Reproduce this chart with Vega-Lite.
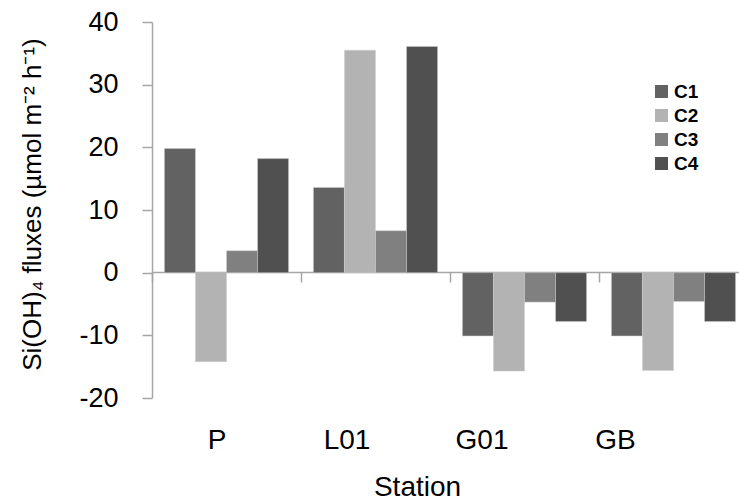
{
  "$schema": "https://vega.github.io/schema/vega-lite/v6.json",
  "width": 587,
  "height": 376,
  "autosize": {"type": "none"},
  "padding": {"left": 152, "top": 22, "right": 0, "bottom": 104},
  "background": "white",
  "config": {
    "view": {"stroke": null},
    "font": "Liberation Sans"
  },
  "data": {
    "values": [
      {"station": "P", "cruise": "C1", "flux": 19.8},
      {"station": "P", "cruise": "C2", "flux": -14.2},
      {"station": "P", "cruise": "C3", "flux": 3.5},
      {"station": "P", "cruise": "C4", "flux": 18.2},
      {"station": "L01", "cruise": "C1", "flux": 13.6},
      {"station": "L01", "cruise": "C2", "flux": 35.5},
      {"station": "L01", "cruise": "C3", "flux": 6.7},
      {"station": "L01", "cruise": "C4", "flux": 36.1},
      {"station": "G01", "cruise": "C1", "flux": -10.1},
      {"station": "G01", "cruise": "C2", "flux": -15.7},
      {"station": "G01", "cruise": "C3", "flux": -4.7},
      {"station": "G01", "cruise": "C4", "flux": -7.8},
      {"station": "GB", "cruise": "C1", "flux": -10.1},
      {"station": "GB", "cruise": "C2", "flux": -15.6},
      {"station": "GB", "cruise": "C3", "flux": -4.6},
      {"station": "GB", "cruise": "C4", "flux": -7.8}
    ]
  },
  "mark": {"type": "bar", "stroke": "#cfcfcf", "strokeWidth": 0.5},
  "encoding": {
    "x": {
      "field": "station",
      "type": "nominal",
      "sort": ["P", "L01", "G01", "GB"],
      "scale": {"range": [0, 596], "paddingInner": 0, "paddingOuter": 0},
      "axis": {
        "title": "Station",
        "titleFontSize": 28,
        "titleFontWeight": "normal",
        "titleColor": "black",
        "titleBaseline": "alphabetic",
        "titleX": 265,
        "titleY": 223,
        "offset": -126,
        "bandPosition": 0,
        "domainColor": "#a6a6a6",
        "domainWidth": 1.5,
        "tickColor": "#a6a6a6",
        "tickWidth": 1.5,
        "tickSize": 10,
        "labelAngle": 0,
        "labelFontSize": 28,
        "labelColor": "black",
        "labelBaseline": "alphabetic",
        "labelPadding": 166,
        "labelOffset": {
          "condition": [
            {"test": "datum.value === 'P'", "value": -9.5},
            {"test": "datum.value === 'L01'", "value": -28.5},
            {"test": "datum.value === 'G01'", "value": -42.5}
          ],
          "value": -58
        }
      }
    },
    "xOffset": {
      "field": "cruise",
      "type": "nominal",
      "scale": {"paddingInner": 0, "paddingOuter": 0.4}
    },
    "y": {
      "field": "flux",
      "type": "quantitative",
      "scale": {"domain": [-20, 40], "nice": false, "zero": false},
      "axis": {
        "values": [-20, -10, 0, 10, 20, 30, 40],
        "labelExpr": "'' + datum.value",
        "grid": false,
        "title": "Si(OH)₄ fluxes (µmol m⁻² h⁻¹)",
        "titleFontSize": 26,
        "titleFontWeight": "normal",
        "titleColor": "black",
        "titleAngle": -90,
        "titleAlign": "center",
        "titleBaseline": "middle",
        "titleX": -120,
        "titleY": 182,
        "domainColor": "#a6a6a6",
        "domainWidth": 1.5,
        "tickColor": "#a6a6a6",
        "tickWidth": 1.5,
        "tickSize": 10,
        "labelFontSize": 27,
        "labelColor": "black",
        "labelPadding": 24
      }
    },
    "color": {
      "field": "cruise",
      "type": "nominal",
      "scale": {"domain": ["C1", "C2", "C3", "C4"], "range": ["#626262", "#b3b3b3", "#808080", "#505050"]},
      "legend": {
        "title": null,
        "orient": "none",
        "legendX": 500,
        "legendY": 60,
        "symbolType": "square",
        "symbolSize": 169,
        "symbolStrokeWidth": 0,
        "labelFontSize": 19,
        "labelFontWeight": "bold",
        "labelColor": "black",
        "labelOffset": 3,
        "rowPadding": 4
      }
    }
  }
}
